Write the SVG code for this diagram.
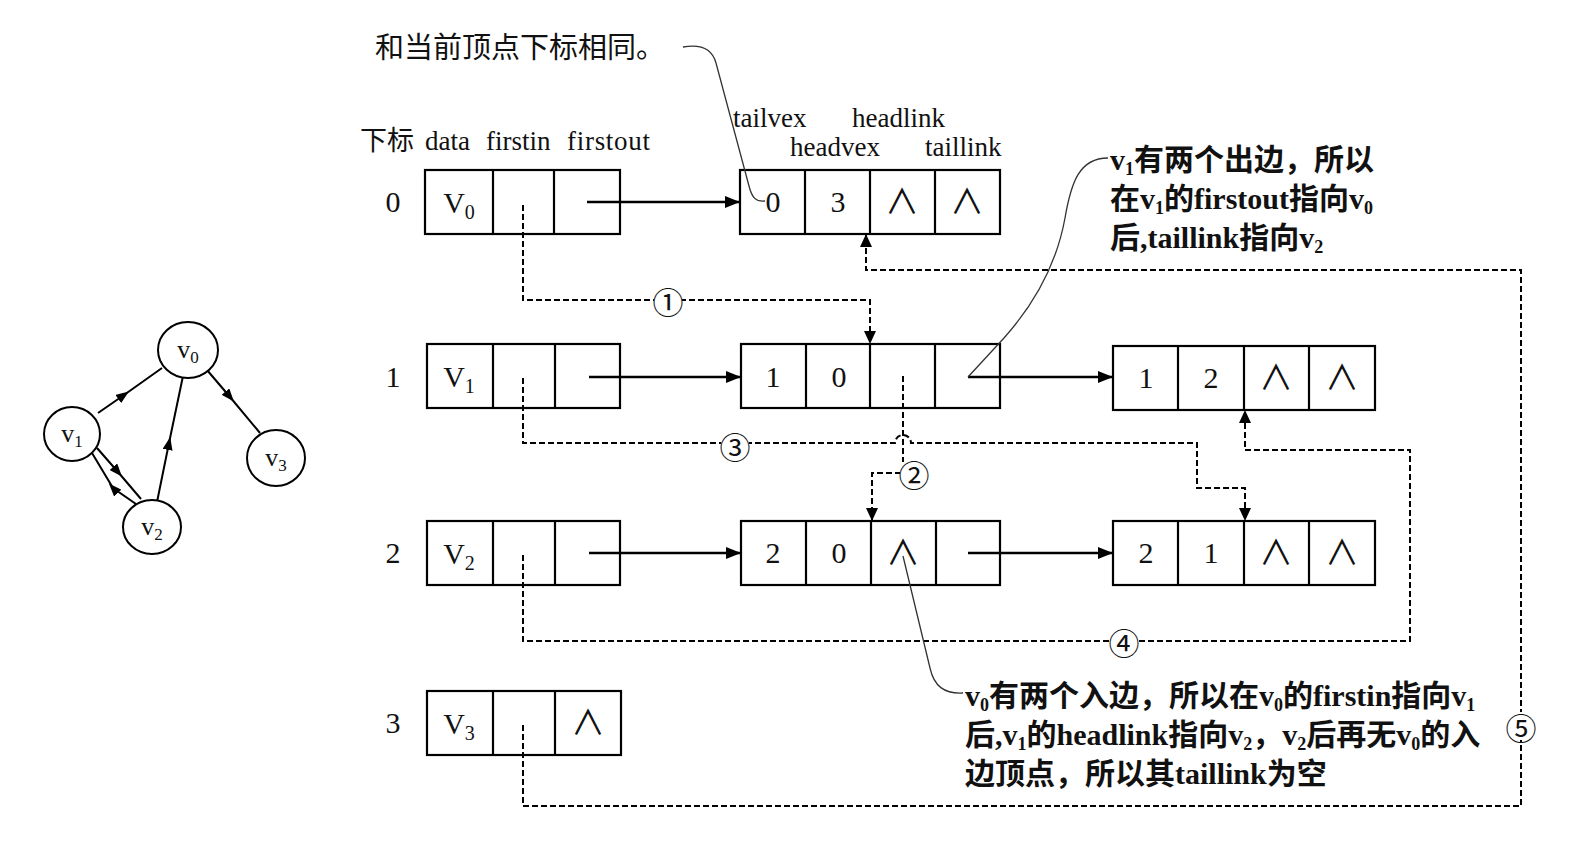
<svg xmlns="http://www.w3.org/2000/svg" width="1570" height="847" viewBox="0 0 1570 847">
<style>
.box{fill:#fff;stroke:#000;stroke-width:2.2}
.div{stroke:#000;stroke-width:2.2}
.sol{fill:none;stroke:#000;stroke-width:2.4}
.dash{fill:none;stroke:#000;stroke-width:2;stroke-dasharray:6 3}
.lead{fill:none;stroke:#333;stroke-width:1.3}
.ge{fill:none;stroke:#000;stroke-width:2}
.t{font-family:"Liberation Serif","Noto Sans CJK SC",serif;fill:#111}
.c{font-size:30px;text-anchor:middle}
.nul{font-family:"Noto Sans CJK SC","DejaVu Sans",sans-serif;font-size:34px;text-anchor:middle;fill:#111}
.hd{font-size:27px}
.an{font-size:30px;font-weight:bold}
.num{font-family:"Noto Sans CJK SC",sans-serif;font-size:31px;text-anchor:middle;dominant-baseline:central;fill:#111}
.cm{fill:#fff;stroke:none}
</style>
<defs>
<marker id="arr" markerUnits="userSpaceOnUse" markerWidth="16" markerHeight="12" refX="15" refY="6" orient="auto">
<path d="M0,0 L15,6 L0,12 z" fill="#000"/>
</marker>
<marker id="darr" markerUnits="userSpaceOnUse" markerWidth="14" markerHeight="12" refX="13" refY="6" orient="auto">
<path d="M0,0 L13,6 L0,12 z" fill="#000"/>
</marker>
<marker id="mid" markerUnits="userSpaceOnUse" markerWidth="14" markerHeight="10" refX="7" refY="5" orient="auto">
<path d="M0,0 L13,5 L0,10 z" fill="#000"/>
</marker>
</defs>

<!-- header labels -->
<g id="header">
<text class="t hd" x="360" y="150">下标</text>
<text class="t hd" x="425" y="150">data</text>
<text class="t hd" x="486" y="150">firstin</text>
<text class="t hd" x="567" y="150" textLength="83">firstout</text>
<text class="t hd" x="733" y="127">tailvex</text>
<text class="t hd" x="852" y="127">headlink</text>
<text class="t hd" x="790" y="156">headvex</text>
<text class="t hd" x="925" y="156">taillink</text>
<text class="t" x="375" y="58" font-size="29">和当前顶点下标相同。</text>
</g>

<!-- row labels -->
<g id="rowlabels">
<text class="t c" x="393" y="212" font-size="28">0</text>
<text class="t c" x="393" y="387" font-size="28">1</text>
<text class="t c" x="393" y="563" font-size="28">2</text>
<text class="t c" x="393" y="733" font-size="28">3</text>
</g>

<!-- vertex nodes -->
<g id="vertex0">
<rect class="box" x="425" y="170" width="195" height="64"/>
<line class="div" x1="493" y1="170" x2="493" y2="234"/>
<line class="div" x1="554" y1="170" x2="554" y2="234"/>
<text class="t c" x="459" y="213">V<tspan font-size="20" dy="6">0</tspan></text>
</g>
<g id="vertex1">
<rect class="box" x="427" y="344" width="193" height="64"/>
<line class="div" x1="493" y1="344" x2="493" y2="408"/>
<line class="div" x1="555" y1="344" x2="555" y2="408"/>
<text class="t c" x="459" y="387">V<tspan font-size="20" dy="6">1</tspan></text>
</g>
<g id="vertex2">
<rect class="box" x="427" y="521" width="193" height="64"/>
<line class="div" x1="493" y1="521" x2="493" y2="585"/>
<line class="div" x1="555" y1="521" x2="555" y2="585"/>
<text class="t c" x="459" y="564">V<tspan font-size="20" dy="6">2</tspan></text>
</g>
<g id="vertex3">
<rect class="box" x="427" y="691" width="194" height="64"/>
<line class="div" x1="493" y1="691" x2="493" y2="755"/>
<line class="div" x1="555" y1="691" x2="555" y2="755"/>
<text class="t c" x="459" y="734">V<tspan font-size="20" dy="6">3</tspan></text>
<text class="nul" x="588" y="735">∧</text>
</g>

<!-- edge nodes -->
<g id="edge03">
<rect class="box" x="740" y="170" width="260" height="64"/>
<line class="div" x1="805" y1="170" x2="805" y2="234"/>
<line class="div" x1="870" y1="170" x2="870" y2="234"/>
<line class="div" x1="935" y1="170" x2="935" y2="234"/>
<text class="t c" x="773" y="212">0</text>
<text class="t c" x="838" y="212">3</text>
<text class="nul" x="902" y="214">∧</text>
<text class="nul" x="967" y="214">∧</text>
</g>
<g id="edge10">
<rect class="box" x="741" y="344" width="259" height="64"/>
<line class="div" x1="806" y1="344" x2="806" y2="408"/>
<line class="div" x1="870" y1="344" x2="870" y2="408"/>
<line class="div" x1="935" y1="344" x2="935" y2="408"/>
<text class="t c" x="773" y="387">1</text>
<text class="t c" x="839" y="387">0</text>
</g>
<g id="edge12">
<rect class="box" x="1113" y="346" width="262" height="64"/>
<line class="div" x1="1178" y1="346" x2="1178" y2="410"/>
<line class="div" x1="1244" y1="346" x2="1244" y2="410"/>
<line class="div" x1="1309" y1="346" x2="1309" y2="410"/>
<text class="t c" x="1146" y="388">1</text>
<text class="t c" x="1211" y="388">2</text>
<text class="nul" x="1276" y="390">∧</text>
<text class="nul" x="1342" y="390">∧</text>
</g>
<g id="edge20">
<rect class="box" x="741" y="521" width="259" height="64"/>
<line class="div" x1="806" y1="521" x2="806" y2="585"/>
<line class="div" x1="871" y1="521" x2="871" y2="585"/>
<line class="div" x1="936" y1="521" x2="936" y2="585"/>
<text class="t c" x="773" y="563">2</text>
<text class="t c" x="839" y="563">0</text>
<text class="nul" x="903" y="565">∧</text>
</g>
<g id="edge21">
<rect class="box" x="1113" y="521" width="262" height="64"/>
<line class="div" x1="1178" y1="521" x2="1178" y2="585"/>
<line class="div" x1="1244" y1="521" x2="1244" y2="585"/>
<line class="div" x1="1309" y1="521" x2="1309" y2="585"/>
<text class="t c" x="1146" y="563">2</text>
<text class="t c" x="1211" y="563">1</text>
<text class="nul" x="1276" y="565">∧</text>
<text class="nul" x="1342" y="565">∧</text>
</g>

<!-- connectors -->
<g id="connectors">
<line class="sol" x1="587" y1="202" x2="740" y2="202" marker-end="url(#arr)"/>
<line class="sol" x1="589" y1="377" x2="741" y2="377" marker-end="url(#arr)"/>
<line class="sol" x1="968" y1="377" x2="1113" y2="377" marker-end="url(#arr)"/>
<line class="sol" x1="589" y1="553" x2="741" y2="553" marker-end="url(#arr)"/>
<line class="sol" x1="968" y1="553" x2="1113" y2="553" marker-end="url(#arr)"/>

<path class="dash" d="M523 205 V300 H870 V344" marker-end="url(#darr)"/>
<path class="dash" d="M903 376 V462"/>
<path class="dash" d="M901 473 H872 V521" marker-end="url(#darr)"/>
<path class="dash" d="M523 378 V443 H895 A8 8 0 0 1 911 443 H1197 V488 H1245 V521" marker-end="url(#darr)"/>
<path class="dash" d="M523 555 V641 H1410 V450 H1245 V410" marker-end="url(#darr)"/>
<path class="dash" d="M523 725 V806 H1521 V270 H866 V234" marker-end="url(#darr)"/>

<circle class="cm" cx="668" cy="300" r="14"/>
<text class="num" x="668" y="300">①</text>
<circle class="cm" cx="914" cy="473" r="14"/>
<text class="num" x="914" y="473">②</text>
<circle class="cm" cx="735" cy="445" r="14"/>
<text class="num" x="735" y="445">③</text>
<circle class="cm" cx="1124" cy="641" r="14"/>
<text class="num" x="1124" y="641">④</text>
<circle class="cm" cx="1521" cy="726" r="14"/>
<text class="num" x="1521" y="726">⑤</text>

<path class="lead" d="M683 47 C700 44 712 48 716 63 L749 186 C752 198 756 202 765 201"/>
<path class="lead" d="M968 377 L1004 338 C1038 300 1057 262 1065 218 C1071 183 1079 158 1108 158"/>
<path class="lead" d="M903 556 L930 668 C934 686 944 694 963 693"/>
</g>

<!-- annotations -->
<g id="note-top">
<text class="t an" x="1110" y="170">v<tspan font-size="18" dy="5">1</tspan><tspan dy="-5">有两个出边，所以</tspan></text>
<text class="t an" x="1110" y="209">在v<tspan font-size="18" dy="5">1</tspan><tspan dy="-5">的firstout指向v</tspan><tspan font-size="18" dy="5">0</tspan></text>
<text class="t an" x="1110" y="248">后,taillink指向v<tspan font-size="18" dy="5">2</tspan></text>
</g>
<g id="note-bottom">
<text class="t an" x="965" y="706">v<tspan font-size="18" dy="5">0</tspan><tspan dy="-5">有两个入边，所以在v</tspan><tspan font-size="18" dy="5">0</tspan><tspan dy="-5">的firstin指向v</tspan><tspan font-size="18" dy="5">1</tspan></text>
<text class="t an" x="965" y="745">后,v<tspan font-size="18" dy="5">1</tspan><tspan dy="-5">的headlink指向v</tspan><tspan font-size="18" dy="5">2</tspan><tspan dy="-5">，v</tspan><tspan font-size="18" dy="5">2</tspan><tspan dy="-5">后再无v</tspan><tspan font-size="18" dy="5">0</tspan><tspan dy="-5">的入</tspan></text>
<text class="t an" x="965" y="784">边顶点，所以其taillink为空</text>
</g>

<!-- graph -->
<g id="graph-edges">
<path class="ge" d="M98 413 L124 395 L162 368" marker-mid="url(#mid)"/>
<path class="ge" d="M207 370 L230 397 L260 433" marker-mid="url(#mid)"/>
<path class="ge" d="M157 502 L169 443 L183 376" marker-mid="url(#mid)"/>
<path class="ge" d="M97 448 L118 472 L141 499" marker-mid="url(#mid)"/>
<path class="ge" d="M136 504 L113 488 L92 453" marker-mid="url(#mid)"/>
</g>
<g id="gv0">
<ellipse cx="188" cy="350" rx="30" ry="28" fill="#fff" stroke="#000" stroke-width="2"/>
<text class="t" x="188" y="358" font-size="26" text-anchor="middle">v<tspan font-size="17" dy="5">0</tspan></text>
</g>
<g id="gv1">
<ellipse cx="72" cy="434" rx="28" ry="27" fill="#fff" stroke="#000" stroke-width="2"/>
<text class="t" x="72" y="442" font-size="26" text-anchor="middle">v<tspan font-size="17" dy="5">1</tspan></text>
</g>
<g id="gv2">
<ellipse cx="152" cy="527" rx="29" ry="27" fill="#fff" stroke="#000" stroke-width="2"/>
<text class="t" x="152" y="535" font-size="26" text-anchor="middle">v<tspan font-size="17" dy="5">2</tspan></text>
</g>
<g id="gv3">
<ellipse cx="276" cy="458" rx="29" ry="28" fill="#fff" stroke="#000" stroke-width="2"/>
<text class="t" x="276" y="466" font-size="26" text-anchor="middle">v<tspan font-size="17" dy="5">3</tspan></text>
</g>
</svg>
